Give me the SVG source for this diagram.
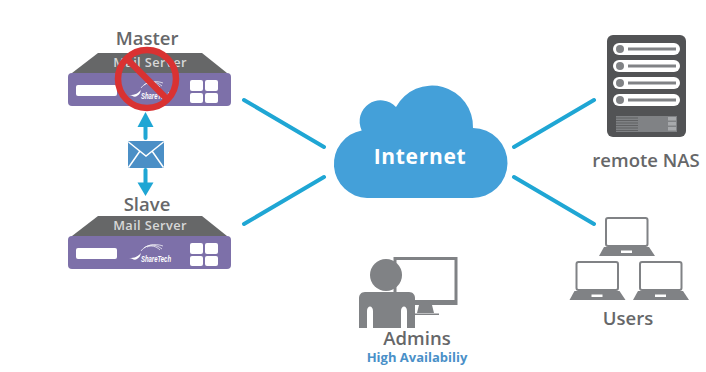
<svg xmlns="http://www.w3.org/2000/svg" width="706" height="372" viewBox="0 0 706 372">
<style>
.lbl{font-family:"Open Sans","Noto Sans",sans-serif;font-size:18.500px;font-weight:600;fill:#666769;text-anchor:middle}
.ms{font-family:"Open Sans","Noto Sans",sans-serif;font-size:12.800px;font-weight:600;fill:#d8d8d8;text-anchor:middle;letter-spacing:.4px}
.st{font-family:"Liberation Sans",sans-serif;font-size:9px;font-weight:700;font-style:italic;fill:#fff}
.link{stroke:#1fa6d4;stroke-width:4;stroke-linecap:round;fill:none}
.wh{fill:#fff}
.lap{fill:#808285}
</style>
<defs>
<g id="server">
<path d="M72 20L98 0H202L227 20Z" fill="#666768"/>
<rect x="68" y="20" width="163" height="33" rx="4" fill="#7d70a9"/>
<rect x="76" y="32" width="41" height="11" rx="2" class="wh"/>
<rect x="190" y="27" width="13" height="11" rx="2" class="wh"/>
<rect x="205" y="27" width="13" height="11" rx="2" class="wh"/>
<rect x="190" y="40" width="13" height="10" rx="2" class="wh"/>
<rect x="205" y="40" width="13" height="10" rx="2" class="wh"/>
<path d="M129 42C136 42 138 40 141 37C140 40 140 41 137 43C134 45 132 42 129 42Z" class="wh"/>
<path d="M141 35C145 29 155 27 163 30M144 32C149 28 156 28 162 33M147 31C151 29 156 30 160 34" fill="none" stroke="#fff" stroke-width=".7"/>
<text x="141" y="46" class="st" textLength="30" lengthAdjust="spacingAndGlyphs">ShareTech</text>
</g>
<g id="laptop">
<rect x="1" y="1" width="41.500" height="28" rx="2" fill="#fff" stroke="#808285" stroke-width="2"/>
<path d="M-1 30H44L50 39H-6Z" class="lap"/>
<rect x="16" y="33.500" width="11" height="2.500" fill="#fff"/>
</g>
</defs>
<g id="connectors">
<path class="link" d="M244 100L324 147M244 224L324 177M514 147L594 100M514 177L594 224"/>
<path d="M145.500 138V125" stroke="#1fa6d4" stroke-width="4" stroke-linecap="round" fill="none"/>
<path d="M145.500 112L153.500 127H137.500Z" fill="#1fa6d4"/>
<path d="M145.500 170V184" stroke="#1fa6d4" stroke-width="4" stroke-linecap="round" fill="none"/>
<path d="M137.500 182.500H153.500L145.500 196Z" fill="#1fa6d4"/>
</g>
<g id="master">
<text x="147" y="45" class="lbl">Master</text>
<use href="#server" y="53"/>
<text x="150" y="67" class="ms">Mail Server</text>
<circle cx="147" cy="79" r="29" fill="none" stroke="#d93232" stroke-width="6.500"/>
<path d="M126 58L168 100" stroke="#d93232" stroke-width="6.500"/>
</g>
<g id="envelope">
<rect x="128" y="141" width="36" height="27" rx="1.500" fill="#4b8fc6"/>
<path d="M128.500 142L146 156L163.500 142M128.500 167.500L140 151M163.500 167.500L152 151" fill="none" stroke="#fff" stroke-width="1.500"/>
</g>
<g id="slave">
<text x="147" y="211" class="lbl">Slave</text>
<use href="#server" y="216"/>
<text x="150" y="230" class="ms">Mail Server</text>
</g>
<g id="cloud">
<path d="M367 198A34.100 34.100 0 0 1 361.700 130.400A21 21 0 0 1 396 107A41 41 0 0 1 473 128A35 35 0 0 1 472 198Z" fill="#44a0d9"/>
<text x="420" y="164" font-family="'Open Sans','Noto Sans',sans-serif" font-size="21" font-weight="700" fill="#fff" text-anchor="middle" letter-spacing=".7">Internet</text>
</g>
<g id="nas">
<rect x="607" y="35" width="79" height="102" rx="6" fill="#525355"/>
<g fill="#fff"><rect x="613" y="43" width="67" height="12" rx="6"/><rect x="613" y="60" width="67" height="12" rx="6"/><rect x="613" y="77" width="67" height="12" rx="6"/><rect x="613" y="94" width="67" height="12" rx="6"/></g>
<g fill="#808285"><circle cx="620" cy="49" r="4"/><circle cx="620" cy="66" r="4"/><circle cx="620" cy="83" r="4"/><circle cx="620" cy="100" r="4"/>
<rect x="628" y="47.500" width="48" height="3"/><rect x="628" y="64.500" width="48" height="3"/><rect x="628" y="81.500" width="48" height="3"/><rect x="628" y="98.500" width="48" height="3"/>
<rect x="616" y="116" width="61" height="16"/></g>
<path d="M616 118H638M616 120.500H638M616 123H638M616 125.500H638M616 128H638M616 130.500H638" stroke="#525355" stroke-width=".7"/>
<g fill="#a7a9ac"><rect x="668" y="117" width="8" height="3.500"/><rect x="668" y="122" width="8" height="3.500"/><rect x="668" y="127" width="8" height="3.500"/></g>
<text x="646" y="167" class="lbl">remote NAS</text>
</g>
<g id="users">
<use href="#laptop" x="605" y="217"/>
<use href="#laptop" x="575.500" y="261"/>
<use href="#laptop" x="639" y="261"/>
<text x="628" y="325" class="lbl">Users</text>
</g>
<g id="admins">
<rect x="395" y="258.500" width="61" height="45" fill="#fff" stroke="#808285" stroke-width="3"/>
<rect x="395" y="300" width="62" height="5" fill="#808285"/>
<path d="M419 305H432L434 313H417Z" fill="#808285"/>
<rect x="414" y="313.500" width="25" height="1.500" fill="#808285"/>
<circle cx="386" cy="275" r="16" fill="#808285"/>
<path d="M365 292H409C413 292 415 295 415 298V328H407V311C407 305 401 305 401 311V328H373V311C373 305 367 305 367 311V328H359V298C359 295 361 292 365 292Z" fill="#808285"/>
<text x="417" y="345" class="lbl">Admins</text>
<text x="417" y="362" font-family="'Open Sans','Noto Sans',sans-serif" font-size="13" font-weight="700" fill="#4a90c8" text-anchor="middle">High Availabiliy</text>
</g>
</svg>
